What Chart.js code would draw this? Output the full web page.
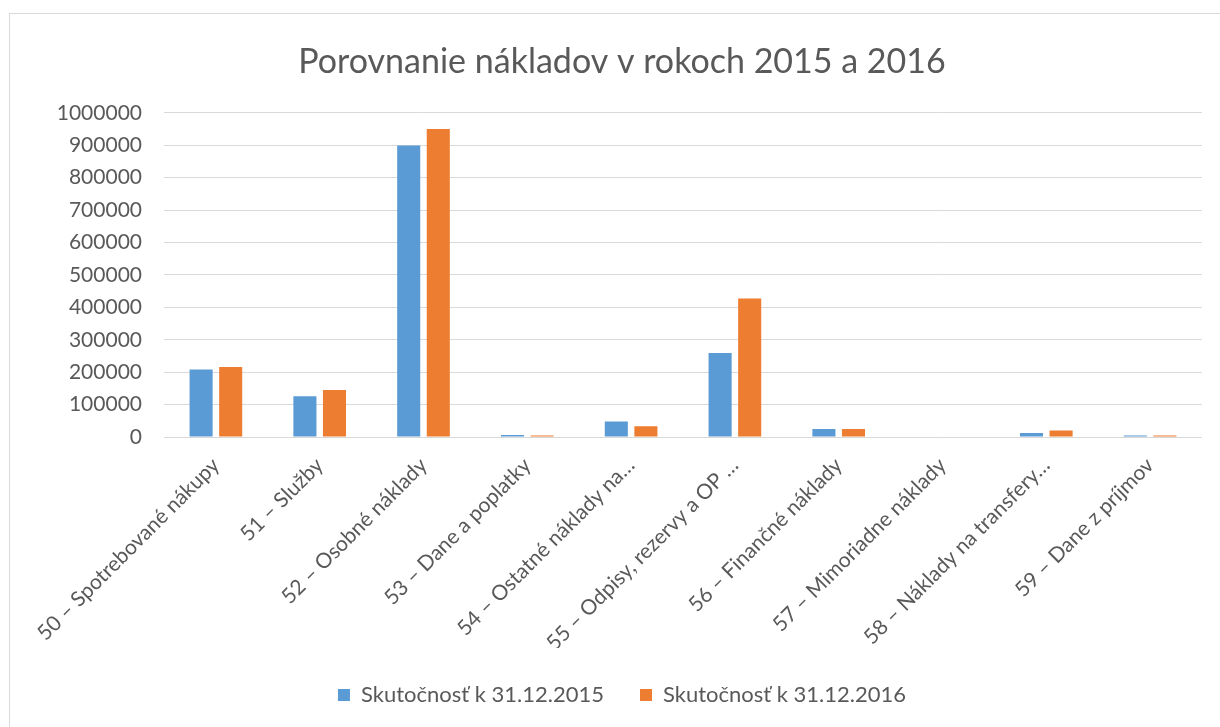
<!DOCTYPE html>
<html>
<head>
    <title>Porovnanie nákladov</title>
    <script src="https://cdn.jsdelivr.net/npm/chart.js"></script>
    <style>
        body { margin: 0; background: #fff; }
        #frame {
            position: absolute; left: 9px; top: 13px;
            width: 1220px; height: 720px;
            border-left: 1px solid #d9d9d9; border-top: 1px solid #d9d9d9;
        }
        #box { position: absolute; left: 0; top: 0; width: 1210px; height: 713px; }
    </style>
</head>
<body>
<div id="frame">
    <div id="box"><canvas id="myChart"></canvas></div>
</div>
<script>
    // kategórie a hodnoty odčítané z grafu
    const categories = [
        '50 – Spotrebované nákupy',
        '51 – Služby',
        '52 – Osobné náklady',
        '53 – Dane a poplatky',
        '54 – Ostatné náklady na…',
        '55 – Odpisy, rezervy a OP …',
        '56 – Finančné náklady',
        '57 – Mimoriadne náklady',
        '58 – Náklady na transfery…',
        '59 – Dane z príjmov'
    ];
    const skutocnost2015 = [208000, 126000, 899000, 6000, 48000, 259000, 25000, 0, 12000, 4500];
    const skutocnost2016 = [216000, 145000, 950000, 5000, 33000, 427000, 25000, 0, 20000, 4500];
    const yTicks = [0, 100000, 200000, 300000, 400000, 500000, 600000, 700000, 800000, 900000, 1000000];

    const gray = '#595959';
    const fontName = 'Lato, "Open Sans", sans-serif';

    const ctx = document.getElementById('myChart').getContext('2d');
    new Chart(ctx, {
        type: 'bar',
        data: {
            labels: categories,
            datasets: [
                {
                    label: 'Skutočnosť k 31.12.2015',
                    data: skutocnost2015,
                    backgroundColor: '#5B9BD5',
                    categoryPercentage: 0.57,
                    barPercentage: 0.78
                },
                {
                    label: 'Skutočnosť k 31.12.2016',
                    data: skutocnost2016,
                    backgroundColor: '#ED7D31',
                    categoryPercentage: 0.57,
                    barPercentage: 0.78
                }
            ]
        },
        options: {
            responsive: true,
            maintainAspectRatio: false,
            animation: false,
            layout: { padding: { left: 32, right: 18, top: 0, bottom: 11 } },
            plugins: {
                title: {
                    display: true,
                    text: 'Porovnanie nákladov v rokoch 2015 a 2016',
                    color: gray,
                    font: { family: fontName, size: 34, weight: 'normal' },
                    padding: { top: 28, bottom: 30 }
                },
                legend: {
                    position: 'bottom',
                    maxHeight: 70,
                    labels: {
                        color: gray,
                        font: { family: fontName, size: 22 },
                        boxWidth: 12,
                        boxHeight: 12,
                        padding: 36
                    }
                },
                tooltip: { enabled: false }
            },
            scales: {
                x: {
                    grid: { display: false },
                    border: { display: false },
                    ticks: {
                        color: gray,
                        font: { family: fontName, size: 21 },
                        minRotation: 45,
                        maxRotation: 45,
                        autoSkip: false,
                        padding: 8
                    },
                    afterFit: s => { s.height = 211; }
                },
                y: {
                    min: 0,
                    max: 1000000,
                    afterBuildTicks: s => { s.ticks = yTicks.map(v => ({ value: v })); },
                    grid: { color: '#d9d9d9', drawTicks: false },
                    border: { display: false },
                    ticks: {
                        color: gray,
                        font: { family: fontName, size: 21 },
                        padding: 22,
                        callback: v => String(v)
                    },
                    afterFit: s => { s.width = 122; }
                }
            }
        }
    });
</script>
</body>
</html>
